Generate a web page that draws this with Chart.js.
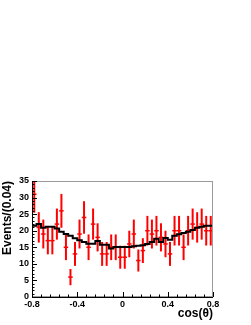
<!DOCTYPE html>
<html>
<head>
<meta charset="utf-8">
<script src="https://cdn.jsdelivr.net/npm/chart.js@4.4.1/dist/chart.umd.min.js"></script>
<style>
  html, body { margin: 0; padding: 0; background: #fff; }
  #wrap { width: 251px; height: 325px; }
</style>
</head>
<body>
<div id="wrap"><canvas id="chart" width="251" height="325"></canvas></div>
<script>
// ── Data ──────────────────────────────────
const binLow = -0.8;
const binWidth = 0.04;
// observed events per bin (40 bins, -0.8 .. 0.8)
const counts = [31, 21, 19, 17, 17, 22, 26, 15, 6, 13,
                19, 24, 15, 22, 18, 13, 13, 15, 15, 12,
                12, 16, 19, 11, 14, 20, 19, 20, 18, 16,
                13, 20, 20, 15, 20, 22, 21, 22, 20, 20];
// fit / MC histogram per bin
const fitValues = [21.5, 22.0, 20.9, 21.2, 21.2, 20.7, 19.7, 19.0, 18.5, 17.7,
                   17.1, 16.6, 16.1, 16.1, 16.9, 15.8, 15.8, 14.6, 15.1, 15.1,
                   15.1, 15.1, 15.3, 15.5, 15.6, 16.0, 16.6, 17.6, 16.6, 17.8,
                   17.3, 18.5, 18.9, 19.3, 19.7, 20.2, 20.9, 21.2, 21.5, 21.5];
const xTickLabels = [-0.8, -0.4, 0, 0.4, 0.8];
const yTickLabels = [0, 5, 10, 15, 20, 25, 30, 35];
const xMinorStep = 0.08;
const yMinorStep = 1;

const FONT = "'Liberation Sans', Arial, Helvetica, sans-serif";

const dataPoints = counts.map((v, i) => ({ x: binLow + binWidth * (i + 0.5), y: v }));
const fitPoints = fitValues.map((v, i) => ({ x: binLow + binWidth * i, y: v }));
fitPoints.push({ x: binLow + binWidth * fitValues.length, y: fitValues[fitValues.length - 1] });

// vertical error bars (sqrt N), drawn with the chart scales
const errorBars = {
  id: 'errorBars',
  beforeDatasetsDraw(chart) {
    const { ctx, chartArea: a, scales: { x, y } } = chart;
    ctx.save();
    ctx.beginPath();
    ctx.rect(a.left, a.top, a.right - a.left, a.bottom - a.top);
    ctx.clip();
    ctx.strokeStyle = '#ff0000';
    ctx.lineWidth = 2;
    dataPoints.forEach(p => {
      const e = Math.sqrt(p.y);
      const px = x.getPixelForValue(p.x);
      ctx.beginPath();
      ctx.moveTo(px, y.getPixelForValue(p.y - e));
      ctx.lineTo(px, y.getPixelForValue(p.y + e));
      ctx.stroke();
    });
    ctx.restore();
  }
};

// ROOT-like frame with inward major/minor ticks
const frame = {
  id: 'frame',
  afterDraw(chart) {
    const { ctx, chartArea: a, scales: { x, y } } = chart;
    ctx.save();
    ctx.lineWidth = 1;
    ctx.strokeStyle = '#9a9a9a';
    ctx.strokeRect(a.left + 0.5, a.top + 0.5, a.right - a.left - 1, a.bottom - a.top - 1);

    ctx.strokeStyle = '#000';
    ctx.beginPath();
    ctx.moveTo(a.left + 0.5, a.top);
    ctx.lineTo(a.left + 0.5, a.bottom + 0.5);
    ctx.lineTo(a.right, a.bottom + 0.5);
    ctx.stroke();

    ctx.beginPath();
    for (let v = 0; v <= 35 + 1e-9; v += yMinorStep) {
      const py = Math.round(y.getPixelForValue(v)) + 0.5;
      const len = Math.abs(v % 5) < 1e-6 ? 5 : 2.5;
      ctx.moveTo(a.left, py);
      ctx.lineTo(a.left + len, py);
    }
    const nx = Math.round(1.6 / xMinorStep);
    for (let k = 0; k <= nx; k++) {
      const v = -0.8 + k * xMinorStep;
      const px = Math.round(x.getPixelForValue(v)) + 0.5;
      const len = k % 5 === 0 ? 5 : 2.5;
      ctx.moveTo(px, a.bottom);
      ctx.lineTo(px, a.bottom - len);
    }
    ctx.stroke();
    ctx.restore();
  }
};

new Chart(document.getElementById('chart'), {
  type: 'scatter',
  data: {
    datasets: [
      {
        type: 'line',
        data: fitPoints,
        stepped: 'before',
        borderColor: '#000',
        borderWidth: 2,
        pointRadius: 0,
        fill: false,
        order: 0,
      },
      {
        data: dataPoints,
        pointStyle: 'line',
        pointRadius: 2.25,
        borderColor: '#ff0000',
        borderWidth: 1.5,
        order: 1,
      }
    ]
  },
  options: {
    responsive: false,
    animation: false,
    devicePixelRatio: 1,
    layout: { padding: { top: 181, right: 38, left: 0, bottom: 0 } },
    plugins: { legend: { display: false }, tooltip: { enabled: false } },
    scales: {
      x: {
        type: 'linear', min: -0.8, max: 0.8,
        afterBuildTicks: s => { s.ticks = xTickLabels.map(v => ({ value: v })); },
        afterFit: s => { s.height = 28; },
        grid: { display: false, drawTicks: false },
        border: { display: false },
        ticks: {
          padding: 2, color: '#000', maxRotation: 0,
          font: { family: FONT, size: 9, weight: 'bold' },
          callback: v => (v === 0 ? '0' : v.toFixed(1)),
        },
        title: {
          display: true, text: 'cos(θ)', align: 'end', color: '#000',
          font: { family: FONT, size: 12, weight: 'bold' },
          padding: { top: 0, bottom: 4 },
        },
      },
      y: {
        min: 0, max: 35,
        afterBuildTicks: s => { s.ticks = yTickLabels.map(v => ({ value: v })); },
        afterFit: s => { s.width = 32; },
        grid: { display: false, drawTicks: false },
        border: { display: false },
        ticks: {
          padding: 3, color: '#000',
          font: { family: FONT, size: 9, weight: 'bold' },
        },
        title: {
          display: true, text: 'Events/(0.04)', align: 'end', color: '#000',
          font: { family: FONT, size: 12, weight: 'bold' },
          padding: { top: 0, bottom: 0 },
        },
      }
    }
  },
  plugins: [errorBars, frame]
});
</script>
</body>
</html>
